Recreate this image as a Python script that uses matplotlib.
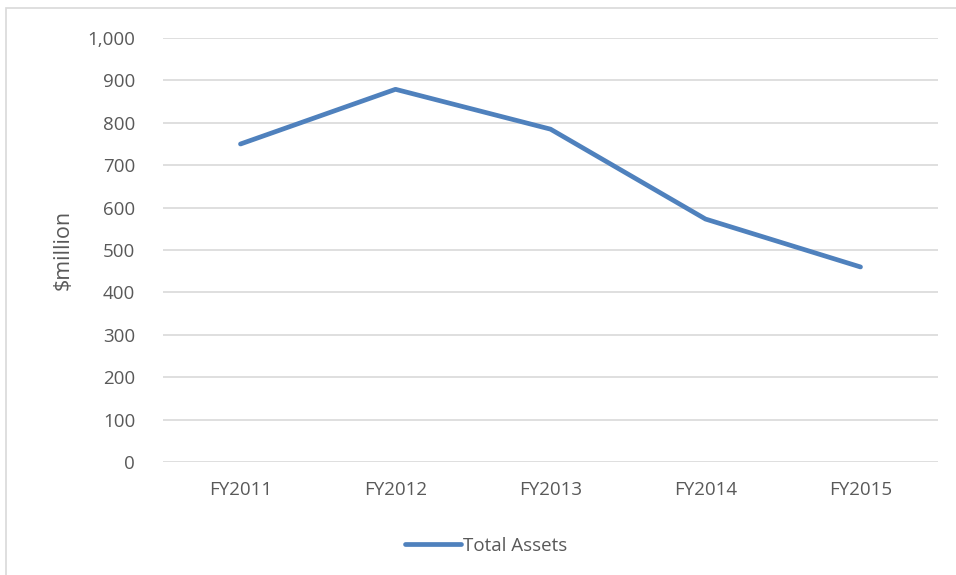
import matplotlib.pyplot as plt
import matplotlib.patches as ptch
from matplotlib.ticker import FuncFormatter

years = ['FY2011', 'FY2012', 'FY2013', 'FY2014', 'FY2015']
total_assets = [750, 879, 785, 573, 460]

plt.rcParams['font.family'] = ['Open Sans', 'DejaVu Sans']
gray = '#595959'

W, H = 956, 575
fig = plt.figure(figsize=(W / 100, H / 100), dpi=100)
ax = fig.add_axes([163 / W, 1 - 462 / H, (938 - 163) / W, (462 - 38) / H])

x = range(len(years))
line, = ax.plot(x, total_assets, color='#4F81BD', linewidth=3.4,
                solid_capstyle='round', label='Total Assets')

ax.set_xlim(-0.5, len(years) - 0.5)
ax.set_ylim(0, 1000)
ax.set_yticks(range(0, 1001, 100))
ax.yaxis.set_major_formatter(FuncFormatter(lambda v, p: f'{int(v):,}'))
ax.set_xticks(list(x))
ax.set_xticklabels(years)

ax.grid(axis='y', color='#d9d9d9', linewidth=1.2)
ax.set_axisbelow(True)
for s in ax.spines.values():
    s.set_visible(False)
ax.tick_params(length=0, colors=gray, labelsize=13.5)
ax.tick_params(axis='y', pad=20)
ax.tick_params(axis='x', pad=14)

ax.set_ylabel('$million', color=gray, fontsize=15.5, labelpad=10)

fig.legend(handles=[line], loc='center', bbox_to_anchor=(486 / W, 1 - 546 / H),
           frameon=False, fontsize=13.5, labelcolor=gray, handlelength=3.0,
           handletextpad=0.1)

# outer chart border
border = ptch.Rectangle((6 / W, -0.01), 1.0, 1 - 8 / H + 0.01,
                        transform=fig.transFigure, fill=False,
                        edgecolor='#d9d9d9', linewidth=1.2)
fig.patches.append(border)

fig.savefig('out.png', dpi=100)
